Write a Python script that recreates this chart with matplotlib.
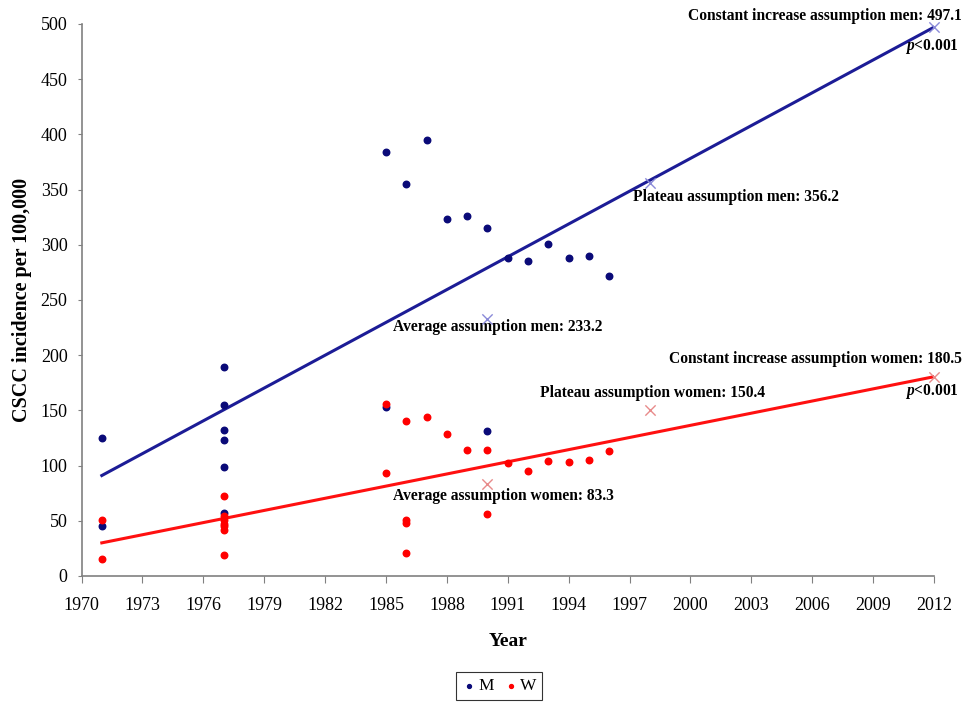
import numpy as np
import matplotlib.pyplot as plt

# observed incidence points (year, value)
men_years = [1971, 1971, 1977, 1977, 1977, 1977, 1977, 1977,
             1985, 1985, 1986, 1987, 1988, 1989, 1990, 1990,
             1991, 1992, 1993, 1994, 1995, 1996]
men_vals = [125, 45, 189, 155, 132, 123, 99, 57,
            384, 153, 355, 395, 323, 326, 315, 131,
            288, 285, 301, 288, 290, 272]

women_years = [1971, 1971, 1977, 1977, 1977, 1977, 1977, 1977, 1977,
               1985, 1985, 1986, 1986, 1986, 1986, 1987, 1988, 1989,
               1990, 1990, 1991, 1992, 1993, 1994, 1995, 1996]
women_vals = [51, 15, 72, 54, 51, 47, 45, 42, 19,
              156, 93, 140, 51, 48, 21, 144, 129, 114,
              114, 56, 102, 95, 104, 103, 105, 113]

# trend lines (endpoints)
trend_years = [1971, 2012]
trend_men = [91, 497.1]
trend_women = [30, 180.5]

# projections
proj_years = [1990, 1998, 2012]
proj_men = [233.2, 356.2, 497.1]
proj_women = [83.3, 150.4, 180.5]

year_ticks = list(range(1970, 2013, 3))

plt.rcParams['font.family'] = ['Liberation Serif', 'DejaVu Serif']
plt.rcParams['mathtext.fontset'] = 'custom'
plt.rcParams['mathtext.it'] = 'Liberation Serif:italic:bold'
plt.rcParams['mathtext.rm'] = 'Liberation Serif:bold'

fig = plt.figure(figsize=(9.68, 7.05), dpi=100)
ax = fig.add_axes([0.0842, 0.183, 0.8807, 0.783])

navy = '#0a0a78'
ax.plot(trend_years, trend_men, color='#1c1c96', lw=2.2, zorder=2)
ax.plot(trend_years, trend_women, color='#ff1010', lw=2.2, zorder=2)
ax.scatter(men_years, men_vals, s=22, color=navy, zorder=3, label='M')
ax.scatter(women_years, women_vals, s=22, color='#ff0000', zorder=4, label='W')
ax.scatter(proj_years, proj_men, marker='x', s=55, color='#8a8ad8', lw=1, zorder=5, clip_on=False)
ax.scatter(proj_years, proj_women, marker='x', s=55, color='#e88a8a', lw=1, zorder=5, clip_on=False)

fs = 11.2
kw = dict(fontsize=fs, fontweight='bold', clip_on=False, va='center')
ax.text(2013.35, 507, 'Constant increase assumption men: 497.1', ha='right', **kw)
ax.text(2013.2, 480, r'$p$<0.001', ha='right', **kw)
ax.text(1997.17, 343, 'Plateau assumption men: 356.2', ha='left', **kw)
ax.text(1985.34, 225.5, 'Average assumption men: 233.2', ha='left', **kw)
ax.text(2013.35, 196.6, 'Constant increase assumption women: 180.5', ha='right', **kw)
ax.text(1992.59, 165.8, 'Plateau assumption women: 150.4', ha='left', **kw)
ax.text(2013.2, 166.7, r'$p$<0.001', ha='right', **kw)
ax.text(1985.34, 72.5, 'Average assumption women: 83.3', ha='left', **kw)

ax.set_xlim(1970, 2012)
ax.set_ylim(0, 500)
ax.set_xticks(year_ticks)
ax.set_yticks(range(0, 501, 50))
ax.tick_params(labelsize=13, color='#808080', direction='out')
ax.tick_params(axis='x', length=5, pad=10)
ax.tick_params(axis='y', length=3, pad=7)
for s in ['top', 'right']:
    ax.spines[s].set_visible(False)
for s in ['left', 'bottom']:
    ax.spines[s].set_color('#808080')
    ax.spines[s].set_linewidth(1.2)

ax.set_xlabel('Year', fontsize=14, fontweight='bold', labelpad=14)
ax.set_ylabel('CSCC incidence per 100,000', fontsize=14.5, fontweight='bold', labelpad=6)

leg = ax.legend(loc='upper center', bbox_to_anchor=(0.49, -0.158), ncol=2,
                fontsize=12.5, frameon=True, fancybox=False, handletextpad=0.1,
                columnspacing=0.6, markerscale=0.6, borderpad=0.35, handlelength=0.8)
leg.get_frame().set_edgecolor('black')
leg.get_frame().set_linewidth(0.8)

fig.savefig('out.png', dpi=100)
